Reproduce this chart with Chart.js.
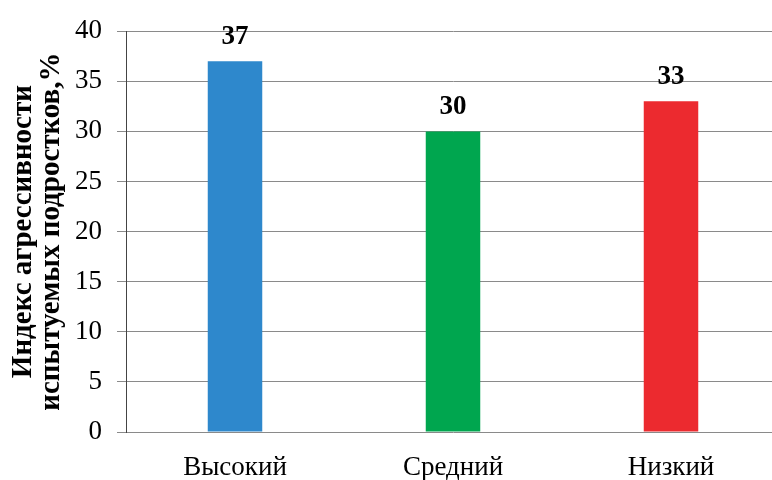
<!DOCTYPE html>
<html>
<head>
<meta charset="utf-8">
<script src="https://cdn.jsdelivr.net/npm/chart.js@4.4.0/dist/chart.umd.min.js"></script>
<style>
  html, body { margin: 0; padding: 0; background: #fff; overflow: hidden; }
  #wrap { width: 772px; height: 480px; overflow: hidden; }
  #box { width: 780px; height: 480px; }
</style>
</head>
<body>
<div id="wrap"><div id="box"><canvas id="myChart"></canvas></div></div>
<script>
var categories = ['Высокий', 'Средний', 'Низкий']
var values = [37, 30, 33]
var barColors = ['#2e88cc', '#00a64f', '#ec2a2f']
var yTicks = [0, 5, 10, 15, 20, 25, 30, 35, 40]

// value labels drawn above the bars
var valueLabels = {
    id: 'valueLabels',
    afterDatasetsDraw: function(chart) {
        var ctx = chart.ctx
        var meta = chart.getDatasetMeta(0)
        ctx.save()
        ctx.font = 'bold 27px "Liberation Serif"'
        ctx.fillStyle = '#000'
        ctx.textAlign = 'center'
        ctx.textBaseline = 'alphabetic'
        meta.data.forEach(function(bar, i) {
            ctx.fillText(values[i], bar.x, bar.y - 17)
        })
        ctx.restore()
    }
}

const config = {
    type: 'bar',
    data: {
        labels: categories,
        datasets: [{
            data: values,
            backgroundColor: barColors,
            barPercentage: 0.25,
            categoryPercentage: 1
        }]
    },
    options: {
        responsive: true,
        maintainAspectRatio: false,
        animation: false,
        layout: { padding: { top: 28, right: 0, bottom: 0, left: 0 } },
        plugins: {
            legend: { display: false },
            tooltip: { enabled: false }
        },
        scales: {
            x: {
                afterFit: function(axis) { axis.height = 48 },
                grid: { display: false, drawTicks: false },
                border: { display: false },
                ticks: {
                    color: '#000',
                    font: { family: 'Liberation Serif', size: 27 },
                    padding: 20
                }
            },
            y: {
                min: 0,
                max: 40,
                afterBuildTicks: function(axis) {
                    axis.ticks = yTicks.map(function(v) { return { value: v } })
                },
                afterFit: function(axis) { axis.width = 126 },
                grid: { color: '#8a8a8a', lineWidth: 1, tickLength: 9 },
                border: { color: '#444', width: 1 },
                ticks: {
                    color: '#000',
                    font: { family: 'Liberation Serif', size: 27 },
                    padding: 15
                },
                title: {
                    display: true,
                    text: ['Индекс агрессивности', 'испытуемых подростков,%'],
                    color: '#000',
                    font: { family: 'Liberation Serif', size: 29, weight: 'bold', lineHeight: 0.97 },
                    padding: { top: 9, bottom: 0 }
                }
            }
        }
    },
    plugins: [valueLabels]
}

const myChart = new Chart(document.getElementById('myChart'), config)
</script>
</body>
</html>
